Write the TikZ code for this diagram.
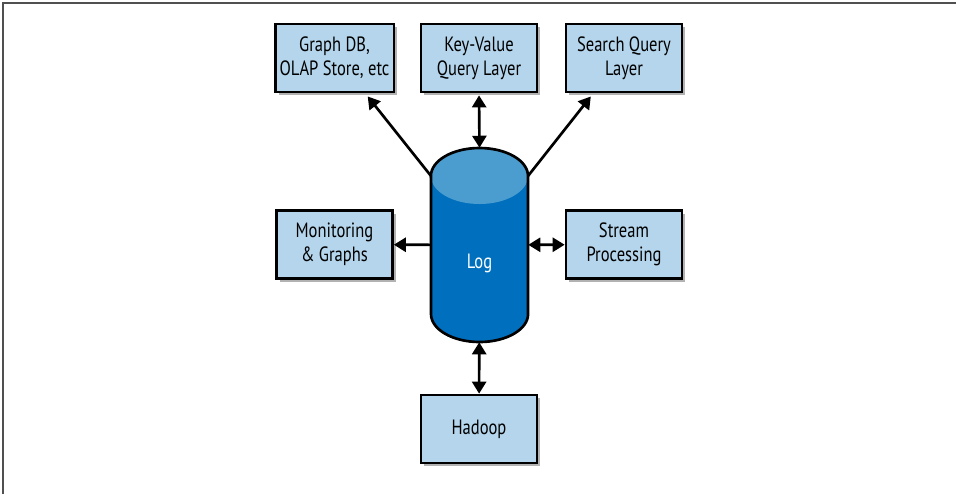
\documentclass[tikz,border=0pt]{standalone}
\usepackage{fontspec}
\setmainfont[FakeStretch=0.8]{PT Sans}
\usepackage{tikz}
\usetikzlibrary{arrows.meta,shadows}

\definecolor{boxblue}{RGB}{180,213,235}
\definecolor{logbody}{RGB}{0,112,190}
\definecolor{logtop}{RGB}{76,157,207}
\definecolor{framegray}{RGB}{80,80,80}

\tikzset{
	layer/.style={draw=black, line width=2pt, fill=boxblue, minimum width=87pt, minimum height=51pt,
		align=center, font=\fontsize{15.5}{18}\selectfont,
		drop shadow={shadow xshift=2.5pt, shadow yshift=-2.5pt, fill=black, opacity=0.3}},
	flow/.style={line width=2pt, -{Triangle[length=9pt,width=10.5pt]}},
	twoway/.style={line width=2pt, {Triangle[length=9pt,width=10.5pt]}-{Triangle[length=9pt,width=10.5pt]}}
}

\begin{document}
\begin{tikzpicture}[x=0.75pt, y=-0.75pt]

	\useasboundingbox (0,0) rectangle (956,494);
	\draw[framegray, line width=1.5pt] (3,494) -- (3,3) -- (956,3);

	\node[minimum width=72.75pt, minimum height=145.5pt, inner sep=0pt] (log) at (479.5,245) {};
	\coordinate (logtl) at (431,176);
	\coordinate (logtr) at (528,176);
	\coordinate (logbl) at (431,314);
	\fill[logbody] (logtl) -- (logbl) arc[start angle=180, end angle=360, x radius=36.4pt, y radius=21pt]
		-- (logtr) arc[start angle=0, end angle=180, x radius=36.4pt, y radius=21pt] -- cycle;
	\fill[logtop] (479.5,176) ellipse[x radius=36.4pt, y radius=21pt];
	\draw[line width=2pt] (logtl) -- (logbl) arc[start angle=180, end angle=360, x radius=36.4pt, y radius=21pt]
		-- (logtr) arc[start angle=0, end angle=180, x radius=36.4pt, y radius=21pt] -- cycle;
	\node[text=white, font=\fontsize{15.5}{18}\selectfont] (logl) at (479.5,263) {Log};

	\node[layer] (graph) at (334.5,58)  {Graph DB,\\OLAP Store, etc};
	\node[layer] (kv) at (479,58)  {Key-Value\\Query Layer};
	\node[layer] (search) at (624,58)  {Search Query\\Layer};

	\node[layer] (mon) at (334.5,244.5)  {Monitoring\\\& Graphs};
	\node[layer] (stream) at (624,244.5)  {Stream\\Processing};

	\node[layer] (hadoop) at (479,429)  {Hadoop};

	\draw (logtl) edge[flow, shorten >=3pt] (graph.-49)
	(log.north) edge[twoway, shorten >=1.5pt] (kv.south)
	(logtr) edge[flow, shorten >=3pt] (search.-131)
	(log) edge[flow] (mon)
	(log) edge[twoway] (stream)
	(log) edge[twoway] (hadoop);

\end{tikzpicture}
\end{document}
